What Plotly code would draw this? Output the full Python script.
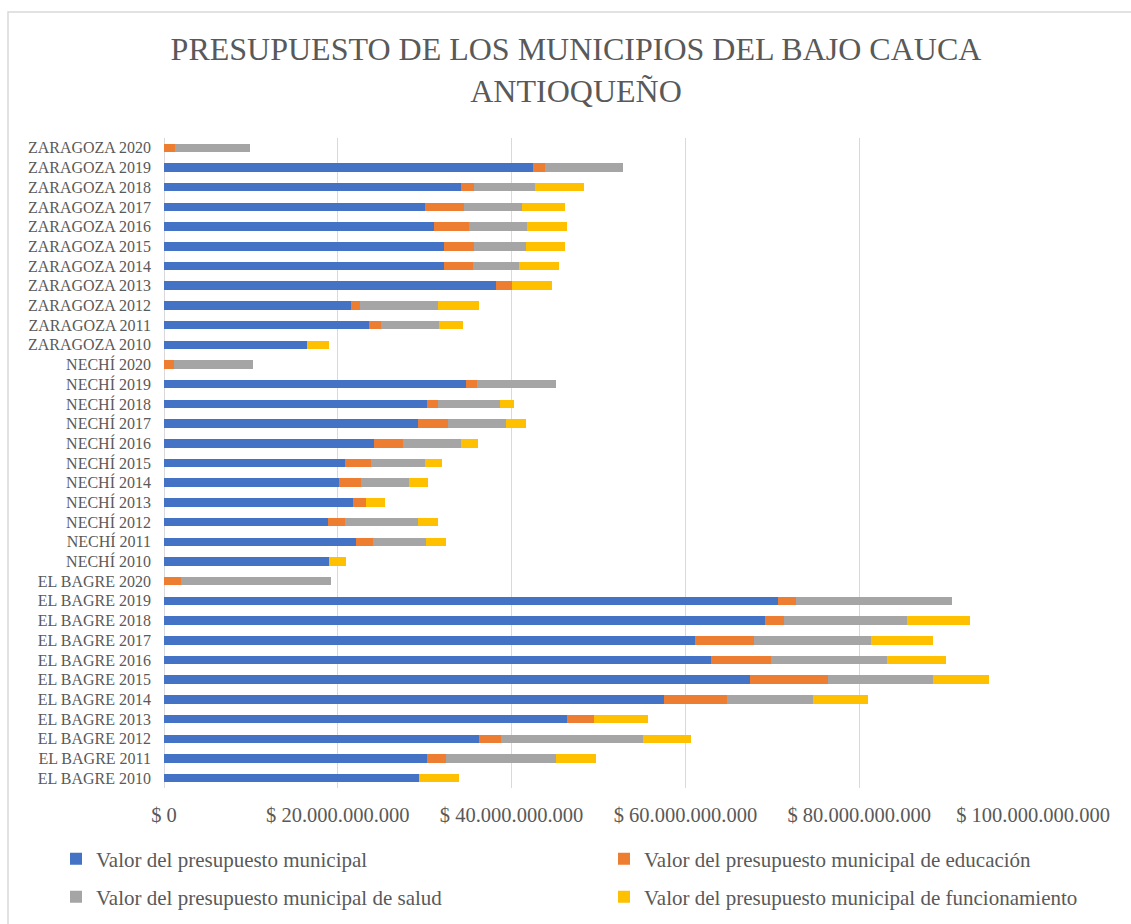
import plotly.graph_objects as go

B = 1e9

categories = [
    "EL BAGRE 2010", "EL BAGRE 2011", "EL BAGRE 2012", "EL BAGRE 2013", "EL BAGRE 2014", "EL BAGRE 2015",
    "EL BAGRE 2016", "EL BAGRE 2017", "EL BAGRE 2018", "EL BAGRE 2019", "EL BAGRE 2020",
    "NECHÍ 2010", "NECHÍ 2011", "NECHÍ 2012", "NECHÍ 2013", "NECHÍ 2014", "NECHÍ 2015",
    "NECHÍ 2016", "NECHÍ 2017", "NECHÍ 2018", "NECHÍ 2019", "NECHÍ 2020",
    "ZARAGOZA 2010", "ZARAGOZA 2011", "ZARAGOZA 2012", "ZARAGOZA 2013", "ZARAGOZA 2014", "ZARAGOZA 2015",
    "ZARAGOZA 2016", "ZARAGOZA 2017", "ZARAGOZA 2018", "ZARAGOZA 2019", "ZARAGOZA 2020",
]

# values in billions of pesos (miles de millones)
municipal = [
    29.4, 30.3, 36.3, 46.4, 57.5, 67.4, 63.0, 61.1, 69.2, 70.6, 0,
    19.0, 22.1, 18.9, 21.7, 20.1, 20.8, 24.2, 29.2, 30.3, 34.7, 0,
    16.4, 23.6, 21.5, 38.2, 32.2, 32.2, 31.1, 30.0, 34.2, 42.5, 0,
]
educacion = [
    0, 2.2, 2.5, 3.1, 7.3, 9.0, 6.8, 6.8, 2.2, 2.1, 1.9,
    0, 2.0, 1.9, 1.5, 2.6, 3.0, 3.3, 3.5, 1.2, 1.3, 1.1,
    0, 1.4, 1.1, 1.9, 3.4, 3.5, 4.0, 4.5, 1.5, 1.4, 1.3,
]
salud = [
    0, 12.6, 16.3, 0, 9.9, 12.1, 13.4, 13.4, 14.1, 18.0, 17.3,
    0, 6.0, 8.4, 0, 5.5, 6.2, 6.7, 6.7, 7.2, 9.1, 9.1,
    0, 6.7, 8.9, 0, 5.2, 6.0, 6.7, 6.7, 7.0, 8.9, 8.6,
]
funcionamiento = [
    4.6, 4.6, 5.5, 6.2, 6.3, 6.4, 6.8, 7.2, 7.3, 0, 0,
    1.9, 2.4, 2.3, 2.2, 2.2, 2.0, 1.9, 2.3, 1.6, 0, 0,
    2.6, 2.7, 4.8, 4.5, 4.6, 4.4, 4.6, 4.9, 5.6, 0, 0,
]

series_names = [
    "Valor del presupuesto municipal",
    "Valor del presupuesto municipal de educación",
    "Valor del presupuesto municipal de salud",
    "Valor del presupuesto municipal de funcionamiento",
]
series_values = [municipal, educacion, salud, funcionamiento]
series_colors = ["#4472C4", "#ED7D31", "#A5A5A5", "#FFC000"]
series_legend = ["legend", "legend2", "legend3", "legend4"]

tick_values = [0, 20e9, 40e9, 60e9, 80e9, 100e9]
tick_labels = ["$ 0", "$ 20.000.000.000", "$ 40.000.000.000", "$ 60.000.000.000",
               "$ 80.000.000.000", "$ 100.000.000.000"]

FONT = "Liberation Serif"
GREY = "#595959"

fig = go.Figure()
for name, vals, col, lg in zip(series_names, series_values, series_colors, series_legend):
    fig.add_trace(go.Bar(
        y=categories,
        x=[v * B for v in vals],
        name=name,
        orientation="h",
        marker=dict(color=col, line=dict(width=0)),
        legend=lg,
        showlegend=True,
        hoverinfo="x+y+name",
    ))

W, H = 1131, 924
L, R, T, Bm = 164, 98, 138, 136
pw, ph = W - L - R, H - T - Bm

def px_x(x):
    return (x - L) / pw

def px_y(y):
    return (H - Bm - y) / ph

legend_pos = {"legend": (56, 859), "legend2": (604, 859), "legend3": (56, 897), "legend4": (604, 897)}
legend_layout = {}
for key, (lx, ly) in legend_pos.items():
    legend_layout[key] = dict(
        visible=True,
        orientation="h", traceorder="normal",
        xref="container", yref="container",
        x=lx / W, y=1 - ly / H, xanchor="left", yanchor="middle",
        font=dict(family=FONT, size=21, color=GREY),
        bgcolor="rgba(0,0,0,0)", itemclick=False, itemdoubleclick=False,
    )

fig.update_layout(
    width=W, height=H,
    showlegend=True,
    margin=dict(l=L, r=R, t=T, b=Bm, autoexpand=False),
    barmode="stack",
    bargap=0.57,
    paper_bgcolor="white",
    plot_bgcolor="white",
    font=dict(family=FONT, color=GREY),
    title=dict(
        text="PRESUPUESTO DE LOS MUNICIPIOS DEL BAJO CAUCA<br>ANTIOQUEÑO",
        x=576 / W, xanchor="center", xref="container",
        y=1 - 60 / H, yanchor="middle", yref="container",
        font=dict(family=FONT, size=32, color=GREY),
    ),
    xaxis=dict(
        range=[0, 100e9],
        tickvals=tick_values,
        ticktext=tick_labels,
        showgrid=True, gridcolor="#D9D9D9", gridwidth=1,
        zeroline=True, zerolinecolor="#D9D9D9", zerolinewidth=1,
        showline=False, ticks="",
        tickfont=dict(family=FONT, size=20.5, color=GREY),
        ticklabelstandoff=12,
        fixedrange=True,
    ),
    yaxis=dict(
        categoryorder="array", categoryarray=categories,
        showgrid=False, zeroline=False, showline=False, ticks="",
        tickfont=dict(family=FONT, size=16, color=GREY),
        ticklabelstandoff=12,
        range=[-0.5, len(categories) - 0.5],
        fixedrange=True,
    ),
    shapes=[dict(
        type="rect", xref="paper", yref="paper",
        x0=px_x(8), x1=px_x(W + 20), y0=px_y(H + 20), y1=px_y(12),
        line=dict(color="#D9D9D9", width=1.5), fillcolor="rgba(0,0,0,0)",
        layer="below",
    )],
    **legend_layout,
)

fig.write_html("out.html", config={"displayModeBar": False},
               post_script="document.body.style.margin='0';")
